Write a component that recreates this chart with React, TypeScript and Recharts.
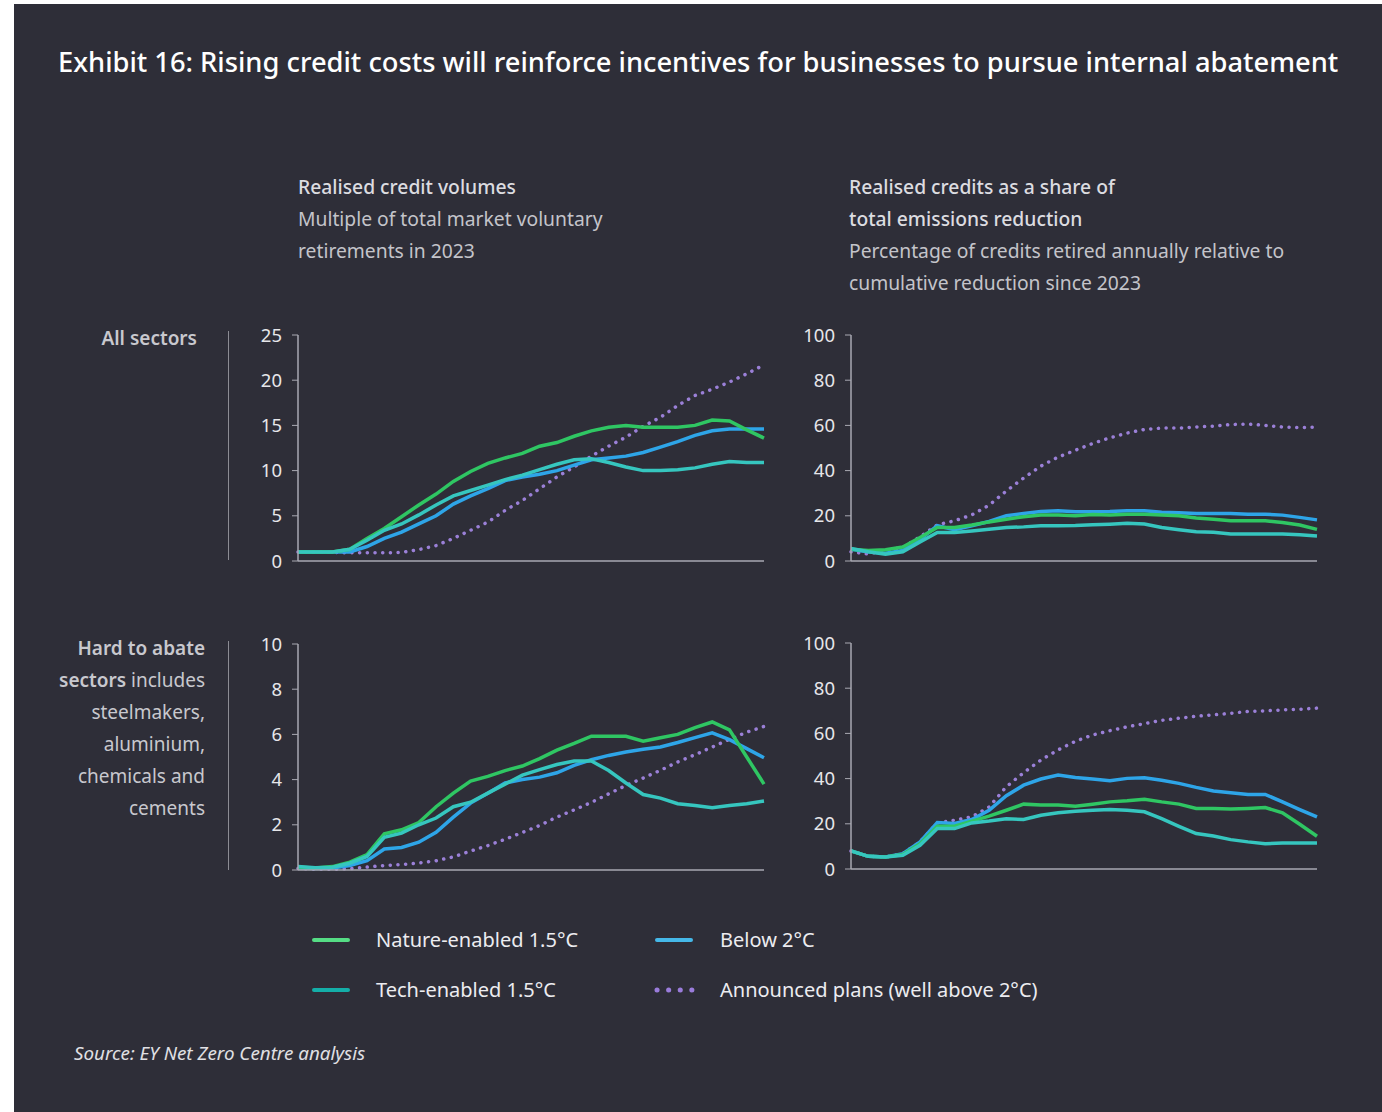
import React from 'react';
import { LineChart, Line, XAxis, YAxis } from 'recharts';

// 2023 .. 2050, one point a year
const years = [
  '2023', '2024', '2025', '2026', '2027', '2028', '2029', '2030', '2031', '2032',
  '2033', '2034', '2035', '2036', '2037', '2038', '2039', '2040', '2041', '2042',
  '2043', '2044', '2045', '2046', '2047', '2048', '2049', '2050',
];

// All sectors - realised credit volumes (multiple of 2023 retirements)
const allVolNature = [1, 1, 1, 1.3, 2.5, 3.6, 4.9, 6.2, 7.4, 8.8, 9.9, 10.8, 11.4, 11.9, 12.7, 13.1, 13.8, 14.4, 14.8, 15.0, 14.8, 14.8, 14.8, 15.0, 15.6, 15.5, 14.5, 13.6];
const allVolTech = [1, 1, 1, 1.3, 2.3, 3.4, 4.1, 5.1, 6.2, 7.2, 7.8, 8.4, 9.0, 9.5, 10.1, 10.7, 11.2, 11.3, 10.9, 10.4, 10.0, 10.0, 10.1, 10.3, 10.7, 11.0, 10.9, 10.9];
const allVolBelow2 = [1, 1, 1, 1.0, 1.6, 2.5, 3.2, 4.1, 5.0, 6.3, 7.2, 8.0, 8.9, 9.3, 9.6, 10.0, 10.6, 11.2, 11.4, 11.6, 12.0, 12.6, 13.2, 13.9, 14.4, 14.6, 14.6, 14.6];
const allVolAnnounced = [1, 1, 0.95, 0.9, 0.9, 0.9, 0.95, 1.26, 1.7, 2.5, 3.4, 4.3, 5.6, 6.7, 8.0, 9.3, 10.4, 11.6, 12.7, 13.7, 14.9, 15.9, 17.2, 18.3, 19.0, 19.8, 20.7, 21.7];

// All sectors - realised credits as share of emissions reduction (%)
const allShareNature = [5.2, 4.7, 5, 6.2, 10.4, 14.8, 14.8, 15.9, 17.3, 18.5, 19.6, 20.4, 20.4, 20, 20.6, 20.4, 20.7, 20.7, 20.3, 20, 19, 18.5, 17.8, 17.8, 17.8, 17, 15.9, 14];
const allShareTech = [5.5, 4.1, 3, 4.1, 8.4, 12.6, 12.6, 13.3, 14, 14.8, 15.1, 15.6, 15.6, 15.7, 16, 16.3, 16.7, 16.4, 14.8, 13.8, 12.9, 12.7, 11.9, 11.9, 11.9, 11.9, 11.6, 11.1];
const allShareBelow2 = [5.2, 4.1, 3.4, 4.7, 9.6, 15.6, 13.8, 15.6, 17.5, 20, 21, 21.9, 22.2, 21.8, 21.8, 21.9, 22.2, 22.2, 21.6, 21.3, 21, 21, 21, 20.7, 20.7, 20.3, 19.3, 18.2];
const allShareAnnounced = [4.1, 3.1, 4.7, 6, 10.7, 16, 17.8, 20.4, 24.7, 31, 36.7, 42, 46, 49, 52, 54.5, 56.6, 58.2, 58.8, 58.8, 59.3, 59.7, 60.4, 60.6, 60, 59.3, 59, 59.3];

// Hard to abate - realised credit volumes
const hardVolNature = [0.12, 0.09, 0.15, 0.35, 0.68, 1.6, 1.78, 2.1, 2.8, 3.4, 3.93, 4.14, 4.4, 4.6, 4.93, 5.3, 5.6, 5.92, 5.92, 5.92, 5.7, 5.85, 6.0, 6.3, 6.55, 6.2, 5.0, 3.8];
const hardVolTech = [0.15, 0.1, 0.12, 0.3, 0.6, 1.45, 1.63, 2.0, 2.3, 2.8, 3.0, 3.4, 3.8, 4.2, 4.44, 4.67, 4.82, 4.82, 4.4, 3.85, 3.34, 3.18, 2.93, 2.85, 2.75, 2.85, 2.93, 3.05];
const hardVolBelow2 = [0.09, 0.07, 0.09, 0.2, 0.41, 0.93, 1.0, 1.23, 1.67, 2.34, 2.96, 3.4, 3.85, 4.0, 4.11, 4.3, 4.63, 4.88, 5.07, 5.22, 5.34, 5.44, 5.64, 5.86, 6.07, 5.77, 5.37, 4.97];
const hardVolAnnounced = [0.07, 0.03, 0.03, 0.06, 0.13, 0.2, 0.24, 0.31, 0.41, 0.58, 0.84, 1.08, 1.36, 1.66, 1.97, 2.34, 2.66, 2.99, 3.37, 3.74, 4.07, 4.41, 4.78, 5.1, 5.44, 5.78, 6.1, 6.35];

// Hard to abate - share of emissions reduction (%)
const hardShareNature = [8, 5.6, 5.3, 6.4, 11.2, 18.9, 18.9, 21.2, 23.4, 26, 28.7, 28.3, 28.3, 27.8, 28.7, 29.7, 30.2, 30.9, 29.7, 28.7, 26.8, 26.8, 26.5, 26.8, 27.2, 24.9, 19.8, 14.5];
const hardShareTech = [8, 5.6, 5.3, 6.1, 10.5, 17.9, 17.9, 20.4, 21.2, 22.2, 21.9, 23.8, 24.9, 25.6, 26, 26.3, 26, 25.3, 22.3, 18.9, 15.7, 14.6, 13, 12, 11.2, 11.5, 11.5, 11.5];
const hardShareBelow2 = [8, 5.6, 5.3, 6.8, 12, 20.6, 20.1, 21.9, 26, 32.4, 37.1, 39.8, 41.6, 40.5, 39.8, 39.1, 40.1, 40.4, 39.3, 37.9, 36.1, 34.5, 33.7, 33, 33, 29.7, 26.3, 23.1];
const hardShareAnnounced = [8, 5.6, 5.3, 6.8, 12, 20.4, 21.6, 23.1, 27.4, 36.4, 42.6, 48.2, 52.7, 56.5, 59.3, 61.2, 62.9, 64.3, 65.8, 66.7, 67.6, 68.2, 68.9, 69.7, 70, 70.4, 70.7, 71.2];

const volTicks = [0, 5, 10, 15, 20, 25];
const hardVolTicks = [0, 2, 4, 6, 8, 10];
const shareTicks = [0, 20, 40, 60, 80, 100];

const BG = '#2e2e38';
const AXIS = '#a9a9b2';
const GREEN = '#2fc663';
const TEAL = '#36c6bf';
const BLUE = '#2ea5e8';
const PURPLE = '#9b80d8';
const FONT = '"Noto Sans", "Open Sans", sans-serif';

type PanelProps = {
  x: number;
  y: number;
  max: number;
  ticks: number[];
  nature: number[];
  tech: number[];
  below2: number[];
  announced: number[];
};

const Panel: React.FC<PanelProps> = ({ x, y, max, ticks, nature, tech, below2, announced }) => {
  const data = years.map((yr, i) => ({
    year: yr,
    nature: nature[i],
    tech: tech[i],
    below2: below2[i],
    announced: announced[i],
  }));
  return (
    <div style={{ position: 'absolute', left: x - 60, top: y - 16 }}>
      <LineChart width={536} height={254} data={data} margin={{ top: 16, right: 10, bottom: 10, left: 0 }}>
        <XAxis dataKey="year" tick={false} tickLine={false} height={2} axisLine={{ stroke: AXIS, strokeWidth: 1.5 }} />
        <YAxis
          type="number"
          domain={[0, max]}
          ticks={ticks}
          interval={0}
          width={60}
          tickSize={6}
          tickMargin={10}
          axisLine={{ stroke: AXIS, strokeWidth: 1.5 }}
          tickLine={{ stroke: AXIS }}
          tick={{ fill: '#e6e6ea', fontSize: 18.5, fontFamily: FONT }}
        />
        <Line dataKey="announced" stroke={PURPLE} strokeWidth={3.5} strokeDasharray="0.1 7.6" strokeLinecap="round" dot={false} isAnimationActive={false} />
        <Line dataKey="below2" stroke={BLUE} strokeWidth={3.5} dot={false} isAnimationActive={false} />
        <Line dataKey="nature" stroke={GREEN} strokeWidth={3.5} dot={false} isAnimationActive={false} />
        <Line dataKey="tech" stroke={TEAL} strokeWidth={3.5} dot={false} isAnimationActive={false} />
      </LineChart>
    </div>
  );
};

const txt = (left: number, top: number, extra: React.CSSProperties = {}): React.CSSProperties => ({
  position: 'absolute',
  left,
  top,
  fontFamily: FONT,
  whiteSpace: 'nowrap',
  ...extra,
});

export default function App() {
  const head: React.CSSProperties = { fontSize: 19.3, color: '#dcdce0', fontWeight: 500 };
  const sub: React.CSSProperties = { fontSize: 19.3, color: '#c4c4ca', fontWeight: 400 };
  const side: React.CSSProperties = { fontSize: 19, color: '#c8c8ce', textAlign: 'right', lineHeight: '32px' };
  const legendText: React.CSSProperties = { fontSize: 20, color: '#ececf0' };

  return (
    <div style={{ position: 'absolute', left: 0, top: 0, width: 1382, height: 1112, background: '#ffffff', overflow: 'hidden' }}>
      <div style={{ position: 'absolute', left: 14, top: 4, width: 1368, height: 1108, background: BG }} />

      <div style={txt(58, 43, { fontSize: 27.3, color: '#ffffff', fontWeight: 500 })}>
        Exhibit 16: Rising credit costs will reinforce incentives for businesses to pursue internal abatement
      </div>

      {/* column headings */}
      <div style={txt(298, 173, { ...head })}>Realised credit volumes</div>
      <div style={txt(298, 205, { ...sub })}>Multiple of total market voluntary</div>
      <div style={txt(298, 237, { ...sub })}>retirements in 2023</div>

      <div style={txt(849, 173, { ...head })}>Realised credits as a share of</div>
      <div style={txt(849, 205, { ...head })}>total emissions reduction</div>
      <div style={txt(849, 237, { ...sub })}>Percentage of credits retired annually relative to</div>
      <div style={txt(849, 269, { ...sub })}>cumulative reduction since 2023</div>

      {/* row labels */}
      <div style={txt(0, 322, { ...side, width: 197, fontWeight: 600 })}>All sectors</div>
      <div style={txt(0, 632, { ...side, width: 205 })}>
        <span style={{ fontWeight: 600 }}>Hard to abate</span>
        <br />
        <span style={{ fontWeight: 600 }}>sectors</span> includes
        <br />
        steelmakers,
        <br />
        aluminium,
        <br />
        chemicals and
        <br />
        cements
      </div>
      <div style={{ position: 'absolute', left: 228, top: 331, width: 1, height: 229, background: '#8c8c94' }} />
      <div style={{ position: 'absolute', left: 228, top: 641, width: 1, height: 229, background: '#8c8c94' }} />

      <Panel x={298} y={335} max={25} ticks={volTicks} nature={allVolNature} tech={allVolTech} below2={allVolBelow2} announced={allVolAnnounced} />
      <Panel x={851} y={335} max={100} ticks={shareTicks} nature={allShareNature} tech={allShareTech} below2={allShareBelow2} announced={allShareAnnounced} />
      <Panel x={298} y={644} max={10} ticks={hardVolTicks} nature={hardVolNature} tech={hardVolTech} below2={hardVolBelow2} announced={hardVolAnnounced} />
      <Panel x={851} y={643} max={100} ticks={shareTicks} nature={hardShareNature} tech={hardShareTech} below2={hardShareBelow2} announced={hardShareAnnounced} />

      {/* legend */}
      <svg style={{ position: 'absolute', left: 300, top: 920 }} width={420} height={90}>
        <line x1={14} y1={20} x2={48} y2={20} stroke="#55dd85" strokeWidth={4} strokeLinecap="round" />
        <line x1={14} y1={70} x2={48} y2={70} stroke="#14aea8" strokeWidth={4} strokeLinecap="round" />
        <line x1={357} y1={20} x2={391} y2={20} stroke="#45b8e8" strokeWidth={4} strokeLinecap="round" />
        <line x1={357} y1={70} x2={393} y2={70} stroke="#9a7cdb" strokeWidth={5} strokeDasharray="0.1 11.5" strokeLinecap="round" />
      </svg>
      <div style={txt(376, 926, legendText)}>Nature-enabled 1.5°C</div>
      <div style={txt(376, 976, legendText)}>Tech-enabled 1.5°C</div>
      <div style={txt(720, 926, legendText)}>Below 2°C</div>
      <div style={txt(720, 976, legendText)}>Announced plans (well above 2°C)</div>

      <div style={txt(74, 1040, { fontSize: 18.8, color: '#e0e0e4', fontStyle: 'italic' })}>Source: EY Net Zero Centre analysis</div>
    </div>
  );
}
